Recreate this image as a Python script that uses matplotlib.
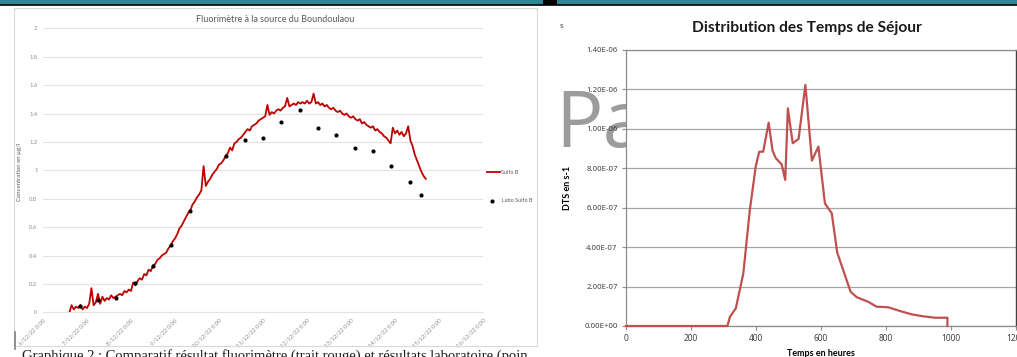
import matplotlib
matplotlib.use("Agg")
import matplotlib.pyplot as plt
from matplotlib.patches import Rectangle
from matplotlib.lines import Line2D
import pandas as pd

W, H = 1017, 357

# ---------------- Fluorimeter at the Boundoulaou spring ----------------
# Sulfo B readings (µg/l), one value every 72 min starting 6/12/22 14:24
sulfo_start = "2022-12-06 14:24"
sulfo_step = "72min"
sulfo_values = [
    0.00, 0.05, 0.02, 0.04, 0.03, 0.05, 0.02, 0.04, 0.03, 0.06,
    0.17, 0.05, 0.07, 0.13, 0.06, 0.11, 0.08, 0.10, 0.09, 0.12,
    0.10, 0.11, 0.12, 0.13, 0.12, 0.15, 0.14, 0.16, 0.15, 0.21,
    0.19, 0.22, 0.24, 0.23, 0.27, 0.26, 0.30, 0.29, 0.33, 0.34,
    0.37, 0.38, 0.40, 0.41, 0.42, 0.45, 0.47, 0.50, 0.52, 0.55,
    0.59, 0.61, 0.64, 0.67, 0.70, 0.72, 0.76, 0.78, 0.81, 0.83,
    0.86, 1.03, 0.89, 0.92, 0.94, 0.97, 0.99, 1.01, 1.04, 1.05,
    1.07, 1.10, 1.12, 1.16, 1.14, 1.19, 1.20, 1.22, 1.23, 1.25,
    1.27, 1.29, 1.28, 1.31, 1.32, 1.33, 1.35, 1.36, 1.37, 1.38,
    1.46, 1.39, 1.41, 1.40, 1.42, 1.43, 1.42, 1.44, 1.45, 1.51,
    1.45, 1.46, 1.47, 1.46, 1.48, 1.47, 1.48, 1.47, 1.49, 1.47,
    1.48, 1.54, 1.47, 1.48, 1.46, 1.47, 1.45, 1.46, 1.44, 1.43,
    1.44, 1.42, 1.41, 1.42, 1.40, 1.39, 1.40, 1.38, 1.37, 1.38,
    1.36, 1.35, 1.36, 1.33, 1.34, 1.32, 1.31, 1.30, 1.31, 1.28,
    1.29, 1.27, 1.26, 1.24, 1.23, 1.21, 1.19, 1.30, 1.26, 1.28,
    1.25, 1.27, 1.24, 1.26, 1.31, 1.21, 1.17, 1.11, 1.07, 1.03,
    0.99, 0.96, 0.94,
]

# Laboratory samples (µg/l)
labo_times = [
    "2022-12-06 20:00", "2022-12-07 06:00", "2022-12-07 16:00",
    "2022-12-08 02:00", "2022-12-08 12:00", "2022-12-08 22:00",
    "2022-12-09 08:00", "2022-12-10 04:00", "2022-12-10 14:00",
    "2022-12-11 00:00", "2022-12-11 10:00", "2022-12-11 20:00",
    "2022-12-12 06:00", "2022-12-12 16:00", "2022-12-13 02:00",
    "2022-12-13 12:00", "2022-12-13 22:00", "2022-12-14 08:00",
    "2022-12-14 14:00",
]
labo_values = [0.044, 0.087, 0.098, 0.208, 0.326, 0.474, 0.711, 1.10, 1.21,
               1.228, 1.342, 1.425, 1.30, 1.249, 1.157, 1.138, 1.032, 0.915,
               0.826]

date_ticks = ["2022-12-%02d" % d for d in range(6, 17)]
date_tick_labels = ["%d/12/22 0:00" % d for d in range(6, 17)]
conc_ticks = [0, 0.2, 0.4, 0.6, 0.8, 1.0, 1.2, 1.4, 1.6, 1.8, 2.0]
conc_tick_labels = ["0", "0.2", "0.4", "0.6", "0.8", "1", "1.2", "1.4",
                    "1.6", "1.8", "2"]

# ---------------- Residence time distribution ----------------
dts_hours = [0, 312, 320, 338, 361, 381, 399, 410, 422, 439, 451, 461, 479,
             490, 498, 513, 531, 552, 572, 592, 612, 633, 650, 691, 710, 745,
             771, 807, 843, 879, 915, 951, 989, 989]
dts_values = [0, 0, 0.47e-7, 0.90e-7, 2.67e-7, 5.88e-7, 8.08e-7, 8.84e-7,
              8.84e-7, 10.31e-7, 8.89e-7, 8.51e-7, 8.20e-7, 7.41e-7,
              11.04e-7, 9.27e-7, 9.49e-7, 12.23e-7, 8.39e-7, 9.10e-7,
              6.22e-7, 5.72e-7, 3.72e-7, 1.74e-7, 1.46e-7, 1.23e-7, 0.98e-7,
              0.95e-7, 0.76e-7, 0.59e-7, 0.49e-7, 0.42e-7, 0.42e-7, 0]
dts_yticks = [0, 2e-7, 4e-7, 6e-7, 8e-7, 10e-7, 12e-7, 14e-7]
dts_ytick_labels = ["0.00E+00", "2.00E-07", "4.00E-07", "6.00E-07",
                    "8.00E-07", "1.00E-06", "1.20E-06", "1.40E-06"]
hour_ticks = [0, 200, 400, 600, 800, 1000, 1200]

caption = ("Graphique 2 : Comparatif résultat fluorimètre (trait rouge) "
           "et résultats laboratoire (points noirs)")


def fx(x):
    return x / W


def fy(y):
    return 1 - y / H


fig = plt.figure(figsize=(W / 100, H / 100), dpi=100)
fig.patch.set_facecolor("white")

# page band at the top
fig.add_artist(Rectangle((0, fy(4.5)), 1, 4.5 / H, transform=fig.transFigure,
                         facecolor="#2e8799", edgecolor="none", zorder=1))
fig.add_artist(Line2D([0, 1], [fy(5), fy(5)], transform=fig.transFigure,
                      color="black", lw=1.2, zorder=2))
fig.add_artist(Rectangle((fx(543), fy(5)), 14 / W, 5 / H,
                         transform=fig.transFigure, facecolor="black",
                         edgecolor="none", zorder=2))

# frame of the fluorimeter chart
fig.add_artist(Rectangle((fx(14), fy(346)), (537 - 14) / W, (346 - 8) / H,
                         transform=fig.transFigure, facecolor="none",
                         edgecolor="#d9d9d9", lw=0.8, zorder=1))
fig.add_artist(Line2D([fx(15), fx(15)], [fy(332), fy(349)],
                      transform=fig.transFigure, color="#7f7f7f", lw=1.2))

calibri = ["Lato", "DejaVu Sans"]
label_font = ["Noto Sans", "DejaVu Sans"]

# ---------------- left chart ----------------
ax1 = fig.add_axes([fx(43), fy(312.3), (483 - 43) / W, (312.3 - 28.3) / H])
sulfo_times = pd.date_range(sulfo_start, periods=len(sulfo_values),
                            freq=sulfo_step)
ax1.plot(sulfo_times, sulfo_values, color="#c00000", lw=1.3, zorder=3)
ax1.plot(pd.to_datetime(labo_times), labo_values, "o", color="black",
         ms=3.0, mew=0, zorder=4)
ax1.set_ylim(0, 2)
ax1.set_xlim(pd.Timestamp(date_ticks[0]), pd.Timestamp(date_ticks[-1]))
ax1.set_yticks(conc_ticks)
ax1.set_yticklabels(conc_tick_labels, fontsize=4.2, color="#8c8c8c",
                    family=calibri)
ax1.set_xticks(pd.to_datetime(date_ticks))
ax1.set_xticklabels(date_tick_labels, fontsize=4.2, color="#8c8c8c",
                    family=calibri, rotation=45, ha="right", va="top",
                    rotation_mode="anchor")
ax1.tick_params(length=0, pad=4)
ax1.grid(axis="y", color="#e3e3e3", lw=0.8)
for s in ax1.spines.values():
    s.set_visible(False)
ax1.spines["bottom"].set_visible(True)
ax1.spines["bottom"].set_color("#e3e3e3")
ax1.set_axisbelow(True)

fig.text(fx(275), fy(20), "Fluorimètre à la source du Boundoulaou",
         ha="center", va="center", fontsize=6.5, color="#595959",
         family=calibri)
fig.text(fx(20), fy(172), "Concentration en µg/l", rotation=90,
         ha="center", va="center", fontsize=4.3, color="#595959",
         family=calibri)

# legend to the right of the plot
fig.add_artist(Line2D([fx(487), fx(500)], [fy(172), fy(172)],
                      transform=fig.transFigure, color="#c00000", lw=1.3))
fig.text(fx(501), fy(172), "Sulfo B", ha="left", va="center", fontsize=4.0,
         color="#595959", family=calibri)
fig.add_artist(Line2D([fx(492)], [fy(201)], transform=fig.transFigure,
                      marker="o", color="black", ms=3.0, mew=0))
fig.text(fx(502), fy(201), "Labo Sulfo B", ha="left", va="center",
         fontsize=4.0, color="#595959", family=calibri)

# caption under the figure, running past the lower edge and hidden
# beneath the second chart on the right
cap = fig.text(fx(22), fy(360), caption, ha="left", va="baseline",
               fontsize=10.5, color="#1a1a1a",
               family=["Liberation Serif", "DejaVu Serif"])
cap.set_clip_path(Rectangle((0, 0), fx(528), 1, transform=fig.transFigure))

# ---------------- right chart ----------------
fig.text(fx(555), fy(147), "Pa", ha="left", va="baseline", fontsize=57,
         color="#9c9c9c", family=["Open Sans", "DejaVu Sans"],
         fontweight="normal", zorder=-1)
fig.text(fx(560), fy(25), "s", ha="left", va="center", fontsize=6,
         color="#404040", family=calibri)

ax2 = fig.add_axes([fx(626), fy(326), (1016 - 626) / W, (326 - 50) / H],
                   zorder=1)
ax2.plot(dts_hours, dts_values, color="#c0504d", lw=1.6, zorder=3,
         clip_on=False)
ax2.set_xlim(0, 1200)
ax2.set_ylim(0, 1.4e-6)
ax2.set_yticks(dts_yticks)
ax2.set_yticklabels(dts_ytick_labels, fontsize=5.6, color="#404040",
                    family=label_font)
ax2.set_xticks(hour_ticks)
ax2.set_xticklabels([str(h) for h in hour_ticks], fontsize=6.0,
                    color="#404040", family=label_font)
ax2.tick_params(axis="both", length=3, color="#8c8c8c", width=0.8, pad=3)
ax2.grid(axis="y", color="#a6a6a6", lw=0.9)
ax2.set_axisbelow(True)
for side in ("left", "bottom", "top"):
    ax2.spines[side].set_color("#8c8c8c")
    ax2.spines[side].set_linewidth(0.9)
ax2.spines["right"].set_color("#404040")
ax2.spines["right"].set_linewidth(1.0)
ax2.set_xlabel("Temps en heures", fontsize=6.5, fontweight="bold",
               family=calibri, labelpad=4)
ax2.set_ylabel("DTS en s-1", fontsize=6.5, fontweight="bold",
               family=calibri, labelpad=9)
fig.text(fx(807), fy(28), "Distribution des Temps de Séjour", ha="center",
         va="center", fontsize=11.2, fontweight="bold", color="#1a1a1a",
         family=calibri)

fig.savefig("out.png", dpi=100)
